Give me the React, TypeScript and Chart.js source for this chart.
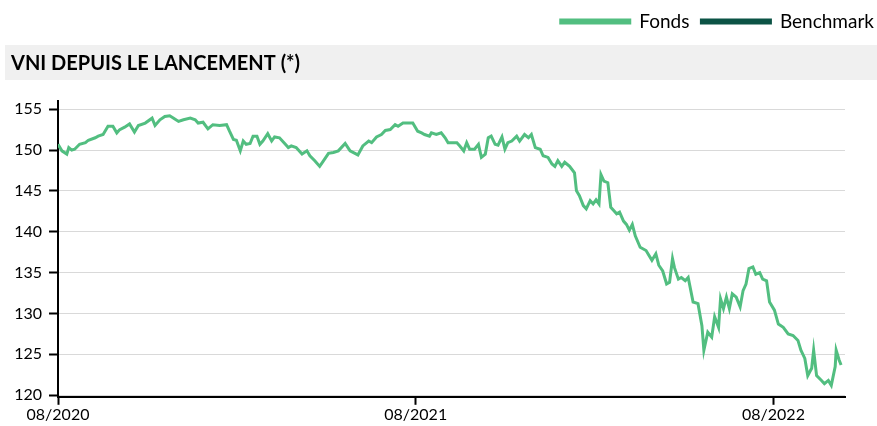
import React, { useEffect, useRef } from "react";
import { Chart, registerables } from "chart.js";

Chart.register(...registerables);

// Days since launch (08/2020) and NAV values
const days = [0,4,9,11,14,17,22,28,31,38,41,46,51,56,60,63,68,73,78,82,89,96,99,104,109,114,118,123,128,135,140,143,148,153,158,165,172,175,179,182,186,189,192,196,199,203,206,209,214,218,221,226,232,235,238,243,249,254,257,262,267,271,276,281,286,293,298,306,311,317,320,325,330,334,339,344,347,352,359,362,367,371,374,379,381,386,391,395,398,403,407,410,414,417,420,425,429,432,436,439,442,446,449,453,456,459,463,468,471,476,480,483,487,492,495,500,504,507,510,514,517,522,527,529,532,536,539,543,546,549,552,554,557,561,564,567,570,573,577,580,583,586,589,594,600,606,610,613,617,621,624,627,629,633,636,640,643,648,653,657,659,663,667,670,674,676,679,682,685,688,692,696,699,702,705,709,712,716,719,723,726,731,735,740,745,750,755,758,762,765,769,771,774,779,782,786,789,793,794,797,799];

const fonds = [150.7,149.9,149.5,150.3,150.0,150.1,150.7,150.9,151.2,151.5,151.7,151.9,152.9,152.9,152.1,152.5,152.8,153.2,152.2,153.0,153.3,153.9,153.0,153.7,154.1,154.2,153.9,153.5,153.7,153.9,153.7,153.3,153.4,152.6,153.1,153.0,153.1,152.3,151.3,151.2,149.9,151.1,150.7,150.8,151.7,151.7,150.7,151.1,152.0,151.1,151.6,151.5,150.7,150.3,150.5,150.3,149.5,149.9,149.3,148.7,148.0,148.7,149.6,149.7,149.9,150.8,149.9,149.4,150.5,151.1,150.9,151.6,151.9,152.4,152.5,153.1,152.9,153.3,153.3,153.3,152.3,152.1,151.9,151.7,152.1,151.9,152.1,151.5,150.9,150.9,150.9,150.5,149.9,150.9,150.1,150.1,150.7,149.1,149.5,151.5,151.7,150.7,150.6,151.6,150.1,150.9,151.1,151.7,151.1,151.9,151.5,151.9,150.3,150.1,149.3,149.1,148.3,148.0,148.7,148.0,148.5,148.0,147.2,145.0,144.4,143.2,142.8,143.8,143.4,143.9,143.4,147.0,146.2,146.0,143.0,142.6,142.2,142.4,141.3,140.9,140.2,140.9,139.5,138.1,137.7,136.5,137.3,135.9,135.2,133.6,133.8,136.7,135.6,134.2,134.4,134.0,134.4,131.4,131.2,128.5,125.5,127.7,127.1,129.6,128.3,131.8,130.6,132.0,130.6,132.4,132.0,130.8,132.8,133.6,135.5,135.7,134.8,135.0,134.2,134.0,131.4,130.4,128.7,128.3,127.5,127.3,126.7,125.5,124.5,122.4,123.3,125.5,122.4,121.8,121.4,121.8,121.2,123.5,125.5,124.3,123.7];

const xTickDays = [0, 365, 730];
const xTickLabels = ["08/2020", "08/2021", "08/2022"];
const yTicks = [120, 125, 130, 135, 140, 145, 150, 155];
const seriesNames = ["Fonds", "Benchmark"];
const title = "VNI DEPUIS LE LANCEMENT (*)";

const GREEN = "#52BE80";
const DARK = "#0B5345";

const titleBarPlugin = {
  id: "titleBar",
  afterLayout(chart: any) {
    const lg = chart.legend;
    if (lg) {
      lg.left += 9;
      lg.right += 9;
    }
  },
  beforeDraw(chart: any) {
    const tb = chart.titleBlock;
    if (!tb) return;
    const ctx = chart.ctx;
    const opts = tb.options;
    const lh = opts.font.size * 1.2;
    const center = tb.top + opts.padding.top + lh / 2;
    ctx.save();
    ctx.fillStyle = "#F0F0F0";
    ctx.fillRect(5, center - 19, chart.width - 5, 35);
    ctx.restore();
  },
};

export default function App() {
  const ref = useRef<HTMLCanvasElement | null>(null);
  useEffect(() => {
    document.body.style.margin = "0";
    const points = days.map((d, i) => ({ x: d, y: fonds[i] }));
    const chart = new Chart(ref.current as HTMLCanvasElement, {
      type: "line",
      data: {
        datasets: [
          {
            label: seriesNames[0],
            data: points,
            borderColor: GREEN,
            backgroundColor: GREEN,
            borderWidth: 3,
            pointRadius: 0,
            tension: 0,
          },
          {
            label: seriesNames[1],
            data: [],
            borderColor: DARK,
            backgroundColor: DARK,
            borderWidth: 3,
            pointRadius: 0,
          },
        ],
      },
      options: {
        animation: false,
        responsive: true,
        maintainAspectRatio: false,
        layout: { padding: { left: 11, right: 0, top: 0, bottom: 2 } },
        font: { family: "Lato" } as any,
        plugins: {
          tooltip: { enabled: false },
          legend: {
            position: "top",
            align: "end",
            weight: 2000,
            labels: {
              boxWidth: 69,
              boxHeight: 3,
              padding: 12,
              color: "#000",
              font: { family: "Lato", size: 19 },
            },
          },
          title: {
            display: true,
            text: title,
            align: "start",
            position: "top",
            weight: 1000,
            color: "#000",
            font: { family: "Lato", size: 20, weight: "bold" },
            padding: { top: 11, bottom: 25 },
          },
        },
        scales: {
          x: {
            type: "linear",
            min: 0,
            max: 803,
            afterBuildTicks: (scale: any) => {
              scale.ticks = xTickDays.map((v) => ({ value: v }));
            },
            ticks: {
              color: "#000",
              padding: 0,
              maxRotation: 0,
              autoSkip: false,
              font: { family: "Lato", size: 16 },
              callback: (v: any) => {
                const i = xTickDays.indexOf(Number(v));
                return i >= 0 ? xTickLabels[i] : "";
              },
            },
            grid: {
              drawOnChartArea: false,
              tickLength: 8,
              tickWidth: 2,
              tickColor: "#000",
            },
            border: { color: "#000", width: 2 },
          },
          y: {
            type: "linear",
            min: 119.8,
            max: 156,
            afterBuildTicks: (scale: any) => {
              scale.ticks = yTicks.map((v) => ({ value: v }));
            },
            afterFit: (scale: any) => {
              scale.width = 47;
            },
            ticks: {
              color: "#000",
              padding: 7,
              font: { family: "Lato", size: 16 },
            },
            grid: {
              color: "#D9D9D9",
              lineWidth: 1,
              tickLength: 9,
              tickWidth: 2,
              tickColor: "#000",
            },
            border: { color: "#000", width: 2 },
          },
          yRight: {
            type: "linear",
            position: "right",
            display: true,
            min: 0,
            max: 1,
            afterBuildTicks: (scale: any) => {
              scale.ticks = [];
            },
            afterFit: (scale: any) => {
              scale.width = 32;
            },
            ticks: { display: false },
            grid: { display: false, drawTicks: false },
            border: { display: false },
          },
        },
      },
      plugins: [titleBarPlugin],
    });
    return () => chart.destroy();
  }, []);
  return (
    <div style={{ width: 877, height: 426, position: "relative" }}>
      <canvas ref={ref} />
    </div>
  );
}
